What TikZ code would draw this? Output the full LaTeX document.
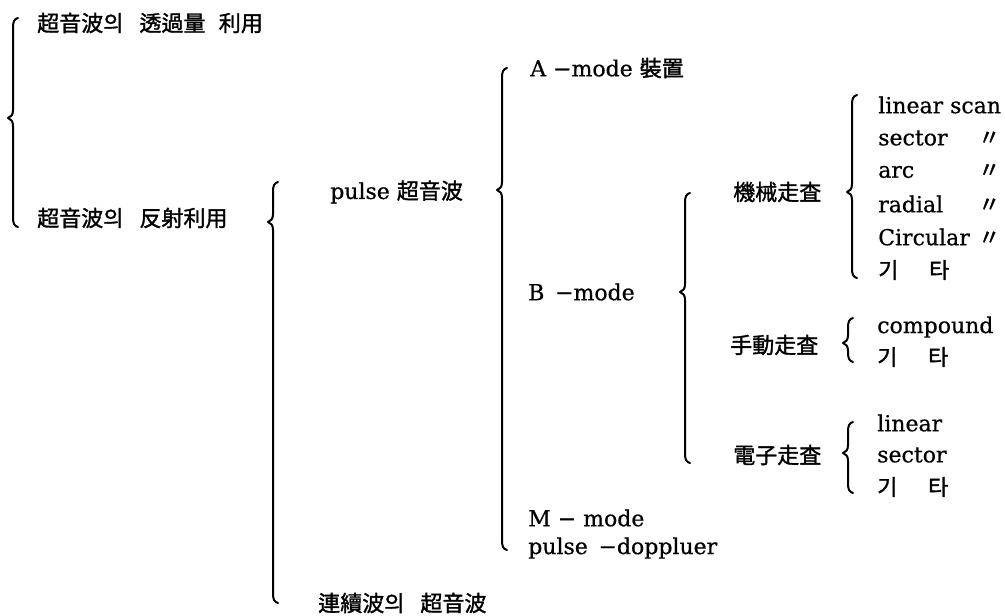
\documentclass[tikz,border=0pt]{standalone}
\usepackage{fontspec}
\setmainfont{DejaVu Serif}[FakeBold=0.6]
\newfontfamily\kr{Noto Sans CJK KR}[FakeBold=1.4]
\newcommand\K[1]{{\kr #1}}
\newcommand\dit[1]{\makebox[75pt][l]{#1}\K{〃}}
\newcommand\gita{\K{기}\hspace{23pt}\K{타}}
% curly brace: name, x, top, tip, bottom
\newcommand\curlyb[5]{%
  \coordinate (#1-top) at (#2+5,#3);
  \coordinate (#1-tip) at (#2-5,#4);
  \coordinate (#1-bot) at (#2+5,#5);
  \draw[bracestyle] (#1-top) .. controls (#2+1,#3+1) and (#2,#3+4) .. (#2,#3+10)
    -- (#2,#4-8) .. controls (#2,#4-3) and (#2-2,#4-1) .. (#1-tip)
    .. controls (#2-2,#4+1) and (#2,#4+3) .. (#2,#4+8)
    -- (#2,#5-10) .. controls (#2,#5-4) and (#2+1,#5-1) .. (#1-bot);
}
\begin{document}
\begin{tikzpicture}[x=0.75pt,y=-0.75pt,
  txt/.style={anchor=west,inner sep=0pt,font=\fontsize{16.5}{20}\selectfont},
  bracestyle/.style={line width=1.5pt,line cap=round,line join=round}]
\useasboundingbox (0,0) rectangle (1005,615);
\fill[white] (0,0) rectangle (1005,615);

% level 0
\curlyb{b1}{13}{18}{118}{227}
\node[txt] (t1) at (37,23) {\K{超音波의}\hspace{12pt}\K{透過量}\hspace{10pt}\K{利用}};
\node[txt] (t2) at (37,218) {\K{超音波의}\hspace{12pt}\K{反射利用}};

% level 1
\curlyb{b2}{273}{182}{222}{603}
\node[txt] (pu) at (330,192) {pulse \K{超音波}};
\node[txt] (cw) at (318,603) {\K{連續波의}\hspace{12pt}\K{超音波}};

% level 2
\curlyb{b3}{502}{68}{190}{550}
\node[txt] (am) at (530,68) {A −mode \K{裝置}};
\node[txt] (bm) at (528,292) {B \,−mode};
\node[txt] (mm) at (528,518) {M − mode};
\node[txt] (pd) at (528,548) {pulse \,−doppluer};

% level 3
\curlyb{b4}{685}{193}{292}{463}
\node[txt] (mech) at (733,192) {\K{機械走査}};
\node[txt] (man) at (730,345) {\K{手動走査}};
\node[txt] (elec) at (733,455) {\K{電子走査}};

% level 4: mechanical
\curlyb{b5}{852}{95}{192}{278}
\node[txt] (m1) at (878,105) {linear scan};
\node[txt] (m2) at (878,138) {\dit{sector}};
\node[txt] (m3) at (878,171) {\dit{arc}};
\node[txt] (m4) at (878,204) {\dit{radial}};
\node[txt] (m5) at (878,237) {\dit{Circular}};
\node[txt] (m6) at (878,270) {\gita};

% manual
\curlyb{b6}{848}{318}{343}{362}
\node[txt] (h1) at (877,327) {compound};
\node[txt] (h2) at (877,357) {\gita};

% electronic
\curlyb{b7}{848}{422}{453}{493}
\node[txt] (e1) at (877,423) {linear};
\node[txt] (e2) at (877,455) {sector};
\node[txt] (e3) at (877,487) {\gita};
\end{tikzpicture}
\end{document}
